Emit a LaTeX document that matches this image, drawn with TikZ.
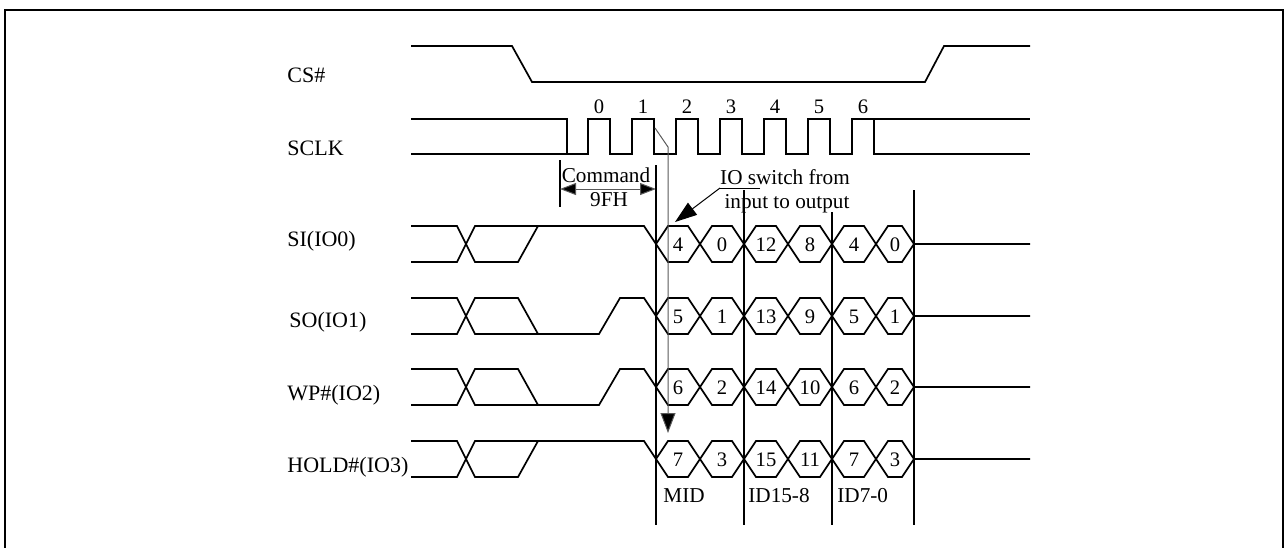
\documentclass[tikz,border=0pt]{standalone}
\usepackage{fontspec}
\setmainfont{Liberation Serif}
\usetikzlibrary{arrows.meta,positioning,calc}

\begin{document}
\begin{tikzpicture}[x=0.5pt, y=-0.5pt,
    wave/.style={line width=0.85pt, line join=miter},
    divider/.style={line width=0.85pt},
    siglabel/.style={anchor=base west, inner sep=0pt, font=\fontsize{11}{13}\selectfont},
    bitnum/.style={inner sep=0pt, font=\fontsize{10.3}{12}\selectfont},
    note/.style={anchor=base, inner sep=0pt, font=\fontsize{10.6}{12}\selectfont},
    pointer/.style={line width=0.5pt, draw=black!65, -{Triangle[length=10pt,width=7.5pt,fill=black]}},
    dimarrow/.style={line width=0.5pt, draw=black!65, {Triangle[length=8pt,width=6pt,fill=black]}-{Triangle[length=8pt,width=6pt,fill=black]}},
    callout/.style={line width=0.5pt, -{Triangle[length=11pt,width=7.5pt]}}
  ]
    \useasboundingbox (0,0) rectangle (1285,547);
    \draw[line width=1.2pt] (5,560) -- (5,10) -- (1283,10) -- (1283,560);

    % Signal names
    \node[siglabel] (cs)   at (287,82)  {CS\#};
    \node[siglabel] (sclk) at (287,155) {SCLK};
    \node[siglabel] (si)   at (287,246) {SI(IO0)};
    \node[siglabel] (so)   at (289,327) {SO(IO1)};
    \node[siglabel] (wp)   at (287,400) {WP\#(IO2)};
    \node[siglabel] (hold) at (287,472) {HOLD\#(IO3)};

    % CS# -- low during the whole read
    \draw[wave] (411,46) -- (512,46) -- (532,82) -- (925,82) -- (944,46) -- (1030,46);

    % SCLK -- idle high or low, then clocks 0..6
    \draw[wave] (411,154) -- (567,154);
    \draw[wave] (411,119) -- (567,119) -- (567,154)
      \foreach \k in {0,...,6} { -- ({588+44*\k},154) -- ({588+44*\k},119) -- ({610+44*\k},119) -- ({610+44*\k},154) }
      -- (1030,154);
    \draw[wave] (874,119) -- (1030,119);
    \foreach \k in {0,...,6}
      \node[bitnum, anchor=base] (clk\k) at ({599+44*\k},113) {\k};

    % Command 9FH span
    \coordinate (cmdL) at (560,189);
    \coordinate (cmdR) at (656,189);
    \draw[divider] (560,160) -- (560,207);
    \draw[dimarrow] (cmdL) -- (cmdR);
    \node[note] (cmd)    at (606,182) {Command};
    \node[note] (cmdval) at (609,206) {9FH};

    % IO lines -- input phase, then data out cells
    \foreach \row/\h/\s/\vals in {si/226/0/{4,0,12,8,4,0}, so/298/36/{5,1,13,9,5,1},
                                  wp/369/36/{6,2,14,10,6,2}, hold/441/0/{7,3,15,11,7,3}} {
      \draw[wave] (411,\h+\s) -- (457,\h+\s) -- (475,\h+36-\s) -- (518,\h+36-\s) -- (538,\h+\s);
      \draw[wave] (411,\h+36-\s) -- (457,\h+36-\s) -- (475,\h+\s) -- (599,\h+\s) -- (620,\h) -- (644,\h)
        -- (668,\h+36) -- (688,\h+36)
        \foreach \i in {1,...,4} { -- ({668+44*\i},{\h+36*mod(\i+1,2)}) -- ({688+44*\i},{\h+36*mod(\i+1,2)}) }
        -- (888,\h) -- (902,\h) -- (914,\h+18) -- (1030,\h+18);
      \draw[wave] (656,\h+18) -- (668,\h) -- (688,\h)
        \foreach \i in {1,...,4} { -- ({668+44*\i},{\h+36*mod(\i,2)}) -- ({688+44*\i},{\h+36*mod(\i,2)}) }
        -- (888,\h+36) -- (902,\h+36) -- (914,\h+18);
      \foreach \v [count=\i from 0] in \vals {
        \pgfmathsetmacro\cx{\i<5 ? 678+44*\i : 895}
        \node[bitnum] (\row-\i) at (\cx,\h+19) {\v};
      }
    }

    % Byte boundaries
    \draw[divider] (656,165) -- (656,525);
    \draw[divider] (744,190) -- (744,525);
    \draw[divider] (832,212) -- (832,525);
    \draw[divider] (914,190) -- (914,525);
    \node[note, anchor=base west] (mid)  at (663,502) {MID};
    \node[note, anchor=base west] (idhi) at (748,502) {ID15-8};
    \node[note, anchor=base west] (idlo) at (837,502) {ID7-0};

    % Turn-around
    \coordinate (clkedge) at (655,128);
    \coordinate (turn)    at (668,147);
    \coordinate (holdin)  at (668,433);
    \draw[pointer] (clkedge) -- (turn) -- (holdin);

    \node[note] (io1) at (785,184) {IO switch from};
    \node[note] (io2) at (787,208) {input to output};
    \coordinate (ioknee) at (720,188);
    \coordinate (sitip)  at (675,222);
    \draw[line width=0.5pt] (760,188) -- (ioknee);
    \draw[callout] (ioknee) -- (sitip);

  \end{tikzpicture}
\end{document}
